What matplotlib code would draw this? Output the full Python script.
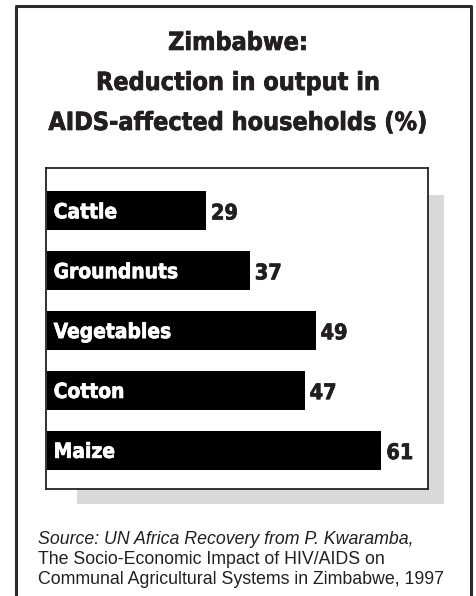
import matplotlib

matplotlib.use("Agg")
import matplotlib.pyplot as plt
import matplotlib.patheffects as pe
from matplotlib.patches import Rectangle

CROPS = ["Cattle", "Groundnuts", "Vegetables", "Cotton", "Maize"]
REDUCTION = [29, 37, 49, 47, 61]
TITLE = "Zimbabwe:\nReduction in output in\nAIDS-affected households (%)"
SOURCE_LINE1 = "Source: UN Africa Recovery from P. Kwaramba,"
SOURCE_LINE2 = "The Socio-Economic Impact of HIV/AIDS on"
SOURCE_LINE3 = "Communal Agricultural Systems in Zimbabwe, 1997"

W, H = 476, 596
REGULAR = ["Liberation Sans", "DejaVu Sans"]
INK = "#231f20"


def px_box(x0, y0, x1, y1):
    # image pixel box (top-left origin) -> figure fraction (left, bottom, width, height)
    return x0 / W, 1 - y1 / H, (x1 - x0) / W, (y1 - y0) / H


def heavy(size, color):
    # condensed bold, thickened a little with a stroke to look like a black weight
    return dict(family="DejaVu Sans", fontstretch="condensed", fontweight="bold", fontsize=size,
                color=color, path_effects=[pe.withStroke(linewidth=0.5, foreground=color)])


fig = plt.figure(figsize=(W / 100, H / 100), dpi=100)
fig.patch.set_facecolor("white")

# outer frame, open at the bottom
fx0, fx1, fy0 = 16 / W, 471 / W, 1 - 6 / H
fig.add_artist(plt.Line2D([fx0, fx0, fx1, fx1], [0, fy0, fy0, 0], color="#2b2b2b", lw=2.2,
                          transform=fig.transFigure))

# drop shadow behind the chart box
l, b, w, h = px_box(77, 195, 444, 504)
fig.add_artist(Rectangle((l, b), w, h, transform=fig.transFigure, facecolor="#d9d9d9",
                         edgecolor="none", zorder=0))

for k, line in enumerate(TITLE.split("\n")):
    fig.text(0.5, 1 - (50 + 40 * k) / H, line, ha="center", va="baseline", **heavy(18, INK))

ax = fig.add_axes(px_box(46, 168, 428, 489))
ax.set_facecolor("white")
ax.set_zorder(2)
y = list(range(len(CROPS)))
ax.barh(y, REDUCTION, height=0.65, color="black", left=0)
for i, (name, val) in enumerate(zip(CROPS, REDUCTION)):
    ax.text(1.2, i + 0.03, name, va="center", ha="left", **heavy(15, "white"))
    ax.text(val + 0.9, i + 0.05, str(val), va="center", ha="left", **heavy(15.5, INK))
ax.set_xlim(-0.2, 69.5)
ax.set_ylim(4.65, -0.71)
ax.set_xticks([])
ax.set_yticks([])
for spine in ax.spines.values():
    spine.set_color("#222222")
    spine.set_linewidth(1.3)

fig.text(38 / W, 1 - 539 / H, SOURCE_LINE1, fontsize=12.8, style="italic", family=REGULAR,
         color=INK, va="center")
fig.text(38 / W, 1 - 559 / H, SOURCE_LINE2, fontsize=12.8, family=REGULAR,
         color=INK, va="center")
fig.text(38 / W, 1 - 580 / H, SOURCE_LINE3, fontsize=12.8, family=REGULAR,
         color=INK, va="center")

fig.savefig("out.png", dpi=100)
